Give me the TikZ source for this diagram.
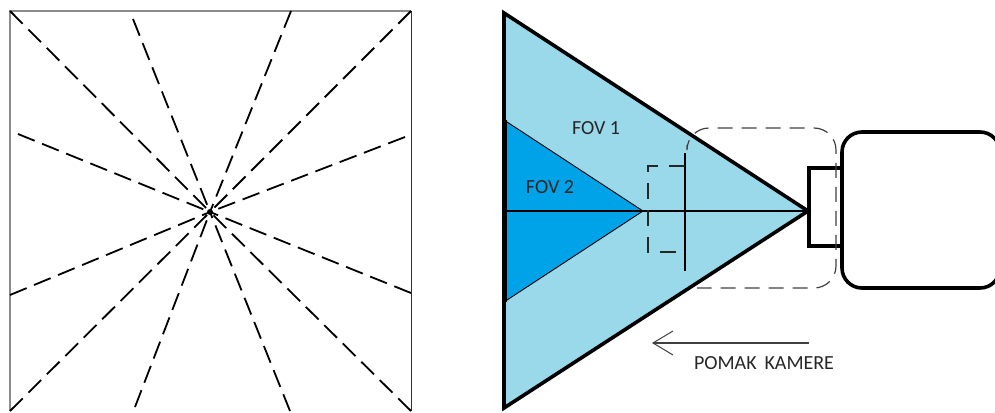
\documentclass[tikz,border=0pt]{standalone}
\usepackage{fontspec}
\setmainfont{Carlito}
\usetikzlibrary{arrows.meta, positioning}
\definecolor{fovone}{HTML}{99D9EA}
\definecolor{fovtwo}{HTML}{00A2E8}

\begin{document}
\begin{tikzpicture}[
  x=1pt, y=-1pt,
  spoke/.style={draw, line width=1.8pt, dash pattern=on 18pt off 8pt},
  heavy/.style={draw, line width=3.6pt},
  thinline/.style={draw, line width=1.2pt},
  dashbox/.style={draw, black!75, line width=1.2pt, dash pattern=on 15pt off 9pt},
  lbl/.style={font=\fontsize{20}{24}\selectfont, text=black!85, inner sep=0pt},
  arr/.style={-{Straight Barb[length=20pt, width=24pt, line width=1pt]}, black!75, line width=1.2pt}
]
\useasboundingbox (0,0) rectangle (995,412);

% left square
\draw[black!45, line width=1.3pt] (10,411) -- (10,11) -- (411,11);
\draw[black!80, line width=1pt] (411,11) -- (411,411);
\coordinate (hub) at (210,212);
\foreach \px/\py in {10/11, 133/19, 291/11, 411/11, 405/137, 411/293, 411/411, 290/411, 135/407, 10/411, 10/295, 18/134}
  \draw[spoke] (\px,\py) -- (hub);
\fill (hub) circle (3pt);

% field of view
\coordinate (topleft) at (504,13);
\coordinate (apex) at (808,211);
\coordinate (botleft) at (504,408);
\coordinate (midleft) at (504,211);
\coordinate (innertop) at (504,120);
\coordinate (innerapex) at (643,211);
\coordinate (innerbot) at (504,302);
\fill[fovone] (topleft) -- (apex) -- (botleft) -- cycle;
\filldraw[fill=fovtwo, draw=black, line width=0.9pt] (innertop) -- (innerapex) -- (innerbot) -- cycle;
\draw[heavy] (topleft) -- (apex) -- (botleft) -- cycle;
\draw[line width=2pt] (506,120) -- (506,302);
\draw[thinline] (midleft) -- (apex);
\node[lbl] (fovonelabel) at (596,128) {FOV 1};
\node[lbl] (fovtwolabel) at (550,187) {FOV 2};

% sensor and its old position
\draw[line width=1.5pt] (685,153) -- (685,271);
\draw[dashbox, line width=1.4pt, black!85, dash pattern=on 16pt off 11pt] (685,166) -- (648,166) -- (648,252) -- (685,252);

% camera
\node[draw, line width=3.6pt, rounded corners=20pt, minimum width=158pt, minimum height=156pt, inner sep=0pt] (body) at (921,210) {};
\draw[heavy] (body.west |- 0,168) -- (809,168) -- (809,246) -- (body.west |- 0,246);
\draw[dashbox, rounded corners=22pt] (687,145) -- (687,128) -- (836,128) -- (836,288) -- (697,288);

% movement
\coordinate (movestart) at (809,343);
\coordinate (moveend) at (652,343);
\draw[arr] (movestart) -- (moveend);
\node[lbl] (movelabel) at (764,363) {POMAK\, KAMERE};
\end{tikzpicture}
\end{document}
